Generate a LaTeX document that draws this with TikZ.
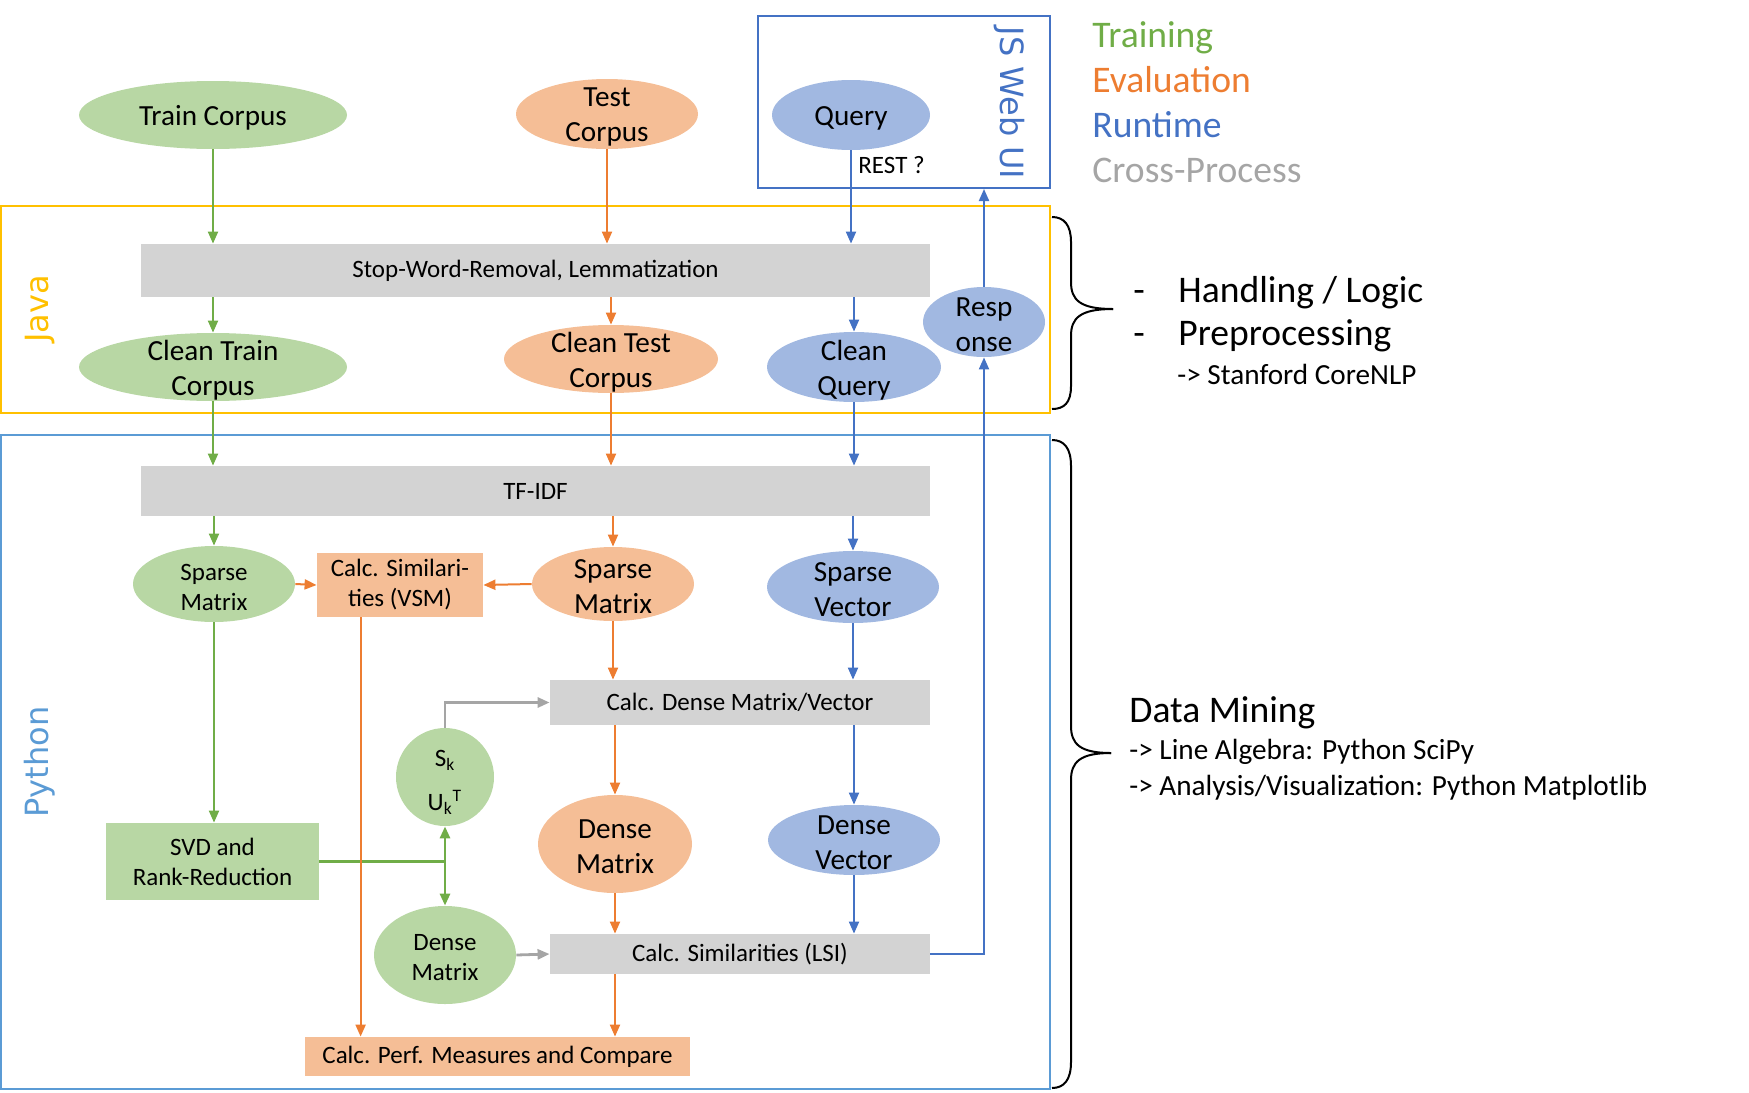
\documentclass[tikz,border=0pt]{standalone}
\usepackage{fontspec}
\setmainfont{Carlito}
\newfontfamily\labfont{DejaVu Sans}
\usetikzlibrary{arrows.meta,shapes.geometric,calc}
\definecolor{gline}{HTML}{70AD47}
\definecolor{gfill}{HTML}{B8D7A4}
\definecolor{oline}{HTML}{ED7D31}
\definecolor{ofill}{HTML}{F5BE96}
\definecolor{bline}{HTML}{4472C4}
\definecolor{bfill}{HTML}{A1B8E1}
\definecolor{grfill}{HTML}{D3D3D3}
\definecolor{grline}{HTML}{A5A5A5}
\definecolor{javac}{HTML}{FFC000}
\definecolor{pyc}{HTML}{5B9BD5}
\tikzset{
  fsa/.style={font=\fontsize{12.5}{15}\selectfont},
  fsb/.style={font=\fontsize{14.6}{17.5}\selectfont},
  fsc/.style={font=\fontsize{18.8}{22}\selectfont},
  lab/.style={yshift=-1.5pt},
  ell/.style={ellipse, inner sep=0pt},
  gE/.style={ell, fill=gfill},
  oE/.style={ell, fill=ofill},
  bE/.style={ell, fill=bfill},
  grbox/.style={rectangle, fill=grfill, inner sep=0pt, fsa, align=center},
  obox/.style={rectangle, fill=ofill, inner sep=0pt, fsa, align=center},
  gbox/.style={rectangle, fill=gfill, inner sep=0pt, fsa, align=center},
  arr/.style={line width=1pt, -{Triangle[length=6pt,width=5pt]}},
  ga/.style={arr, draw=gline},
  oa/.style={arr, draw=oline},
  ba/.style={arr, draw=bline},
  gra/.style={arr, draw=grline, line width=1.4pt},
  vlab/.style={font={\labfont\fontsize{16}{19}\selectfont}},
  brc/.style={line width=1pt, black},
  rt/.style={anchor=base west, inner sep=0pt},
}
\begin{document}
\begin{tikzpicture}[x=0.5pt,y=-0.5pt]
\useasboundingbox (0,0) rectangle (1749,1092);
% frames
\draw[javac, line width=1pt] (1,206) rectangle (1050,413);
\draw[pyc, line width=1pt] (1,435) rectangle (1050,1089);
\node[draw=bline, line width=1pt, minimum width=146pt, minimum height=86pt, inner sep=0pt] (js) at (904,102) {};
\node[vlab, text=bline, rotate=-90] (jsT) at (1009,103) {JS Web UI};
\node[vlab, text=javac, rotate=90] (javaT) at (40,309) {Java};
\node[vlab, text=pyc, rotate=90] (pyT) at (40,762) {Python};

% top row
\node[gE, minimum width=134pt, minimum height=34pt, label={[fsb,lab]center:Train Corpus}] (tc) at (213,115) {};
\node[oE, minimum width=91pt, minimum height=35pt, label={[fsb,lab,align=center]center:Test\\Corpus}] (tsc) at (607,114) {};
\node[bE, minimum width=79pt, minimum height=35pt, label={[fsb,lab]center:Query}] (q) at (851,115) {};
\node[fsa, rt] (rest) at (858,173) {REST ?};

% java row
\node[grbox, minimum width=394.5pt, minimum height=26.5pt] (stop) at (535.5,270.5) {Stop-Word-Removal, Lemmatization};
\node[gE, minimum width=134pt, minimum height=34pt, label={[fsb,lab,align=center]center:Clean Train\\Corpus}] (ctc) at (213,367) {};
\node[oE, minimum width=107pt, minimum height=34pt, label={[fsb,lab,align=center]center:Clean Test\\Corpus}] (cts) at (611,359) {};
\node[bE, minimum width=87pt, minimum height=35pt, label={[fsb,lab,align=center]center:Clean\\Query}] (cq) at (854,367) {};
\node[bE, minimum width=61pt, minimum height=35pt, label={[fsb,lab,align=center]center:Resp\\onse}] (resp) at (984,322) {};

% python
\node[grbox, minimum width=394.5pt, minimum height=25pt] (tfidf) at (535.5,491) {TF-IDF};
\node[gE, minimum width=81pt, minimum height=38pt, label={[fsa,lab,align=center]center:Sparse\\Matrix}] (smg) at (214,584) {};
\node[obox, minimum width=83pt, minimum height=32pt] (vsm) at (400,585) {Calc. Similari-\\ties (VSM)};
\node[oE, minimum width=81pt, minimum height=37pt, label={[fsb,lab,align=center]center:Sparse\\Matrix}] (smo) at (613,584) {};
\node[bE, minimum width=86pt, minimum height=36pt, label={[fsb,lab,align=center]center:Sparse\\Vector}] (sv) at (853,587) {};
\node[grbox, minimum width=190pt, minimum height=22.5pt] (cdm) at (740,702.5) {Calc. Dense Matrix/Vector};
\node[gE, minimum width=49pt, minimum height=49pt, label={[fsa,yshift=-2.5pt,align=center]center:S\textsubscript{k}\\[7pt]U\textsubscript{k}\textsuperscript{T}}] (sk) at (445,777) {};
\node[gbox, minimum width=106.5pt, minimum height=38.5pt, font=\fontsize{12.5}{15}\selectfont] (svd) at (212.5,861.5) {SVD and\\Rank-Reduction};
\node[oE, minimum width=77pt, minimum height=49pt, label={[fsb,lab,align=center]center:Dense\\Matrix}] (dmo) at (615,844) {};
\node[bE, minimum width=86pt, minimum height=35pt, label={[fsb,lab,align=center]center:Dense\\Vector}] (dv) at (854,840) {};
\node[gE, minimum width=71pt, minimum height=49pt, label={[fsa,lab,align=center]center:Dense\\Matrix}] (dmg) at (445,955) {};
\node[grbox, minimum width=190pt, minimum height=20pt] (lsi) at (740,954) {Calc. Similarities (LSI)};
\node[obox, minimum width=192.5pt, minimum height=19.5pt] (perf) at (497.5,1056.5) {Calc. Perf. Measures and Compare};

% connectors top -> stop
\draw[ga] (tc.south) -- (tc.south |- stop.north);
\draw[oa] (tsc.south) -- (tsc.south |- stop.north);
\draw[ba] (q.south) -- (q.south |- stop.north);
% stop -> clean
\draw[ga] (ctc.north |- stop.south) -- (ctc.north);
\draw[oa] (cts.north |- stop.south) -- (cts.north);
\draw[ba] (cq.north |- stop.south) -- (cq.north);
% clean -> tfidf
\draw[ga] (ctc.south) -- (ctc.south |- tfidf.north);
\draw[oa] (cts.south) -- (cts.south |- tfidf.north);
\draw[ba] (cq.south) -- (cq.south |- tfidf.north);
% tfidf -> sparse
\draw[ga] (smg.north |- tfidf.south) -- (smg.north);
\draw[oa] (smo.north |- tfidf.south) -- (smo.north);
\draw[ba] (sv.north |- tfidf.south) -- (sv.north);
% sparse -> vsm
\draw[oa] (smg.east) -- (vsm.west);
\draw[oa] (smo.west) -- (vsm.east);
% sparse -> svd / cdm
\draw[ga] (smg.south) -- (smg.south |- svd.north);
\draw[oa] (smo.south) -- (smo.south |- cdm.north);
\draw[ba] (sv.south) -- (sv.south |- cdm.north);
% sk -> cdm
\draw[gra] (sk.north) |- (cdm.west);
% svd -> sk, dmg
\coordinate (j) at (svd.east -| sk.center);
\draw[gline, line width=1.4pt] (svd.east) -- (j);
\draw[ga, line width=1.4pt] (j) -- (sk.south);
\draw[ga, line width=1.4pt] (j) -- (dmg.north);
% vsm -> perf
\coordinate (vb) at ([xshift=22pt]vsm.south west);
\draw[oa] (vb) -- (vb |- perf.north);
% cdm -> dense
\draw[oa] (dmo.north |- cdm.south) -- (dmo.north);
\draw[ba] (dv.north |- cdm.south) -- (dv.north);
% dense -> lsi
\draw[oa] (dmo.south) -- (dmo.south |- lsi.north);
\draw[ba] (dv.south) -- (dv.south |- lsi.north);
\draw[gra] (dmg.east) -- (lsi.west);
% lsi -> perf
\draw[oa] (lsi.south -| dmo) -- (perf.north -| dmo);
% lsi -> resp -> js
\draw[ba] (lsi.east) -| (resp.south);
\draw[ba] (resp.north) -- (resp.north |- js.south);

% legend
\node[fsc, text=gline, rt] (lt) at (1092,47) {Training};
\node[fsc, text=oline, rt] (le) at (1092,92) {Evaluation};
\node[fsc, text=bline, rt] (lr) at (1092,137) {Runtime};
\node[fsc, text=grline, rt] (lc) at (1092,182) {Cross-Process};

% braces
\draw[brc] (1052,217) .. controls (1064,217) and (1071,225) .. (1071,242) -- (1071,282)
  .. controls (1071,300) and (1080,309) .. (1113,309);
\draw[brc] (1113,309) .. controls (1080,309) and (1071,318) .. (1071,336) -- (1071,386)
  .. controls (1071,403) and (1064,409) .. (1052,409);
\draw[brc] (1052,440) .. controls (1064,440) and (1071,448) .. (1071,466) -- (1071,726)
  .. controls (1071,744) and (1080,753) .. (1111,753);
\draw[brc] (1111,753) .. controls (1080,753) and (1071,762) .. (1071,780) -- (1071,1062)
  .. controls (1071,1080) and (1064,1088) .. (1052,1088);

% right texts
\node[fsc, rt] (d1) at (1133,302) {-};
\node[fsc, rt] (h1) at (1178,302) {Handling / Logic};
\node[fsc, rt] (d2) at (1133,345) {-};
\node[fsc, rt] (h2) at (1178,345) {Preprocessing};
\node[fsb, rt] (h3) at (1177,384) {-> Stanford CoreNLP};
\node[fsc, rt] (dm) at (1129,722) {Data Mining};
\node[fsb, rt] (dm1) at (1129,759) {-> Line Algebra: Python SciPy};
\node[fsb, rt] (dm2) at (1129,795) {-> Analysis/Visualization: Python Matplotlib};
\end{tikzpicture}
\end{document}
